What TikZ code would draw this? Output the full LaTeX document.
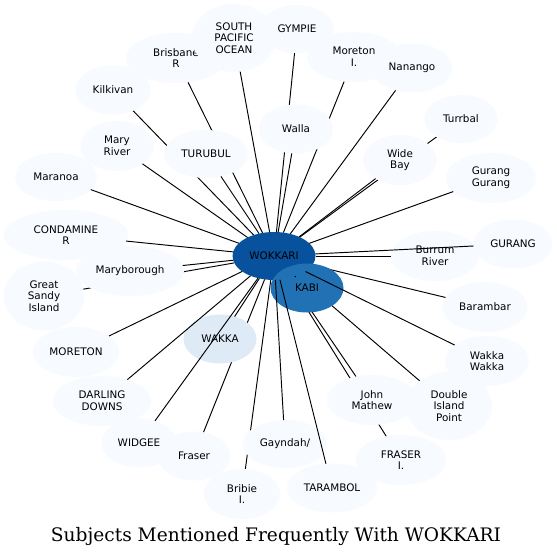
\documentclass[tikz,border=0pt]{standalone}
\usepackage{fontspec}
\newfontfamily\lblfont{DejaVu Sans}
\newfontfamily\ttlfont{DejaVu Serif}
\usetikzlibrary{shapes.geometric}
\pgfdeclarelayer{paper}
\pgfdeclarelayer{bg}
\pgfdeclarelayer{fg}
\pgfsetlayers{paper,bg,main,fg}
\definecolor{blueA}{HTML}{F7FBFF}
\definecolor{blueB}{HTML}{DEEBF7}
\definecolor{blueG}{HTML}{2171B5}
\definecolor{blueH}{HTML}{08519C}
\begin{document}
\begin{tikzpicture}[x=1pt,y=-1pt,
  sub/.style={ellipse, fill=blueA, draw=none, inner sep=0pt, outer sep=0pt, align=center,
    font=\lblfont\fontsize{10.4}{11.7}\selectfont, text=black},
  sz/.style 2 args={minimum width=#1pt, minimum height=#2pt},
  link/.style={draw=black, line width=0.95pt}]
\begin{pgfonlayer}{paper}
\fill[white] (0,0) rectangle (557,557);
\end{pgfonlayer}
\useasboundingbox (0,0) rectangle (557,557);
% central nodes
\node[sub, fill=blueH, sz={83}{48}] (wok) at (274,256) {WOKKARI};
\node[sub, fill=blueG, sz={73}{49}] (kabi) at (307,288) {KABI};
\node[sub, fill=blueB, sz={73}{49}] (wakka) at (220,339) {WAKKA};
% peripheral nodes
\node[sub, sz={100}{50}] (bris) at (176,58) {Brisbane\\R};
\node[sub, sz={74}{48}] (gym) at (297,29) {GYMPIE};
\node[sub, sz={84}{68}] (spo) at (234,38) {SOUTH\\PACIFIC\\OCEAN};
\node[sub, sz={94}{50}] (mori) at (354,57) {Moreton\\I.};
\node[sub, sz={81}{49}] (nan) at (412,68) {Nanango};
\node[sub, sz={75}{49}] (kil) at (113,90) {Kilkivan};
\node[sub, sz={73}{48}] (turr) at (461,119) {Turrbal};
\node[sub, sz={74}{49}] (wal) at (296,129) {Walla};
\node[sub, sz={73}{50}] (mary) at (117,146) {Mary\\River};
\node[sub, sz={84}{48}] (turu) at (206,154) {TURUBUL};
\node[sub, sz={73}{50}] (wide) at (400,160) {Wide\\Bay};
\node[sub, sz={82}{48}] (mar) at (56,177) {Maranoa};
\node[sub, sz={90}{50}] (gg) at (491,178) {Gurang\\Gurang};
\node[sub, sz={124}{50}] (cond) at (66,235) {CONDAMINE\\R};
\node[sub, sz={88}{50}] (burr) at (435,256) {Burrum\\River};
\node[sub, sz={79}{49}] (gur) at (513,244) {GURANG};
\node[sub, sz={80}{69}] (gsi) at (44,296) {Great\\Sandy\\Island};
\node[sub, sz={108}{50}] (maryb) at (130,271) {Maryborough};
\node[sub, sz={85}{50}] (bar) at (485,307) {Barambar};
\node[sub, sz={86}{50}] (moret) at (76,352) {MORETON};
\node[sub, sz={84}{50}] (ww) at (487,361) {Wakka\\Wakka};
\node[sub, sz={98}{50}] (dd) at (102,401) {DARLING\\DOWNS};
\node[sub, sz={90}{50}] (jm) at (372,400) {John\\Mathew};
\node[sub, sz={86}{68}] (dip) at (449,406) {Double\\Island\\Point};
\node[sub, sz={75}{49}] (widg) at (139,443) {WIDGEE};
\node[sub, sz={72}{49}] (fras) at (194,456) {Fraser};
\node[sub, sz={84}{48}] (gay) at (285,444) {Gayndah/};
\node[sub, sz={90}{50}] (frasi) at (401,460) {FRASER\\I.};
\node[sub, sz={76}{50}] (bri) at (242,494) {Bribie\\I.};
\node[sub, sz={90}{49}] (tara) at (332,488) {TARAMBOL};
% title
\node[anchor=base, inner sep=0pt, font=\ttlfont\fontsize{18.6}{22}\selectfont] (title) at (276,541)
  {Subjects Mentioned Frequently With WOKKARI};
% connectors partly hidden under later nodes
\begin{pgfonlayer}{bg}
\foreach \n in {bris,kil,gym,mori,turr,bar,dip,jm,frasi,gsi,fras,bri}
  \draw[link] (\n) -- (wok);
\draw[link] (wok) -- (kabi) coordinate[pos=0] (kdot);
\end{pgfonlayer}
% connectors drawn over the nodes
\begin{pgfonlayer}{fg}
\foreach \n in {spo,nan,wal,mary,turu,wide,mar,gg,cond,gur,burr,maryb,moret,wakka,ww,dd,widg,gay,tara}
  \draw[link] (\n) -- (wok);
\fill[black] (kdot) circle (0.8);
\end{pgfonlayer}
\end{tikzpicture}
\end{document}
